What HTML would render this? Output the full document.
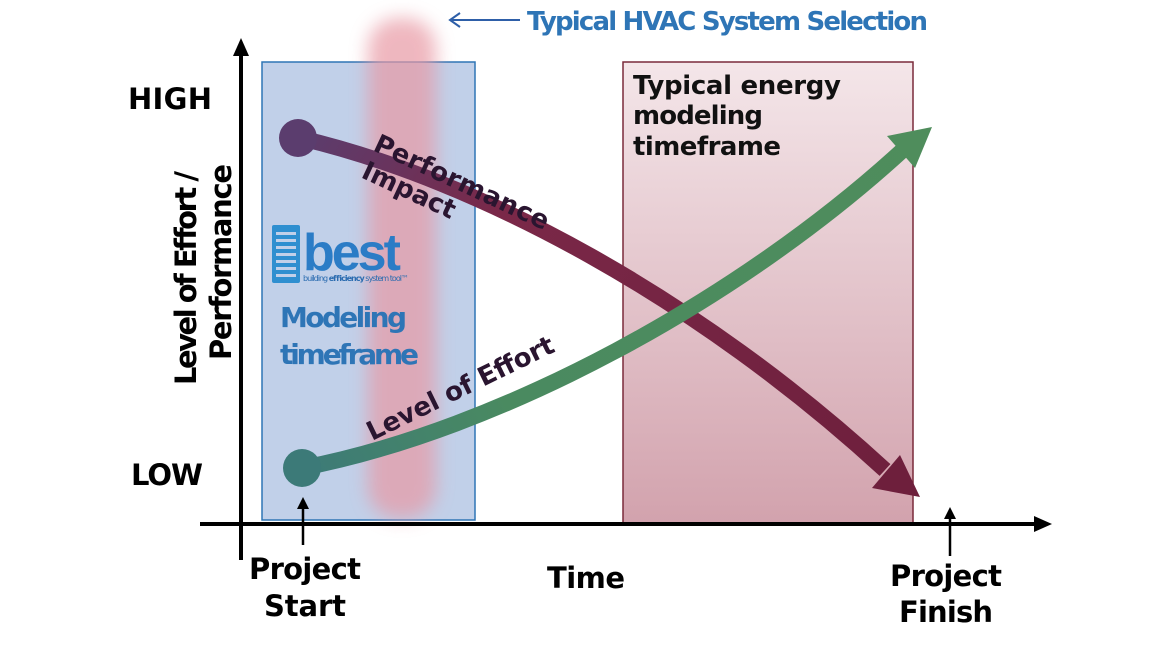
<!DOCTYPE html>
<html><head><meta charset="utf-8"><style>
html,body{margin:0;padding:0;background:#fff;}
svg{display:block;font-family:"DejaVu Sans","Liberation Sans",sans-serif;font-weight:bold;}
</style></head><body>
<svg width="1170" height="658" viewBox="0 0 1170 658" xmlns="http://www.w3.org/2000/svg">
<defs>
<linearGradient id="rb" x1="0" y1="0" x2="0" y2="1"><stop offset="0" stop-color="#f4e6e9"/><stop offset="1" stop-color="#d2a2ad"/></linearGradient>
<linearGradient id="pg" gradientUnits="userSpaceOnUse" x1="300" y1="138" x2="910" y2="490"><stop offset="0" stop-color="#5b3d6e"/><stop offset="0.3" stop-color="#7a2848"/><stop offset="1" stop-color="#6e1f3c"/></linearGradient>
<linearGradient id="gg" gradientUnits="userSpaceOnUse" x1="300" y1="468" x2="930" y2="130"><stop offset="0" stop-color="#3c7a78"/><stop offset="0.3" stop-color="#4a8a60"/><stop offset="1" stop-color="#4f8d5c"/></linearGradient>
<filter id="bl" x="-50%" y="-10%" width="200%" height="120%"><feGaussianBlur stdDeviation="9"/></filter>
</defs>
<rect x="262" y="62" width="213" height="458" fill="#c1d0e9" stroke="#2f75b5" stroke-width="1.5"/>
<rect x="368" y="18" width="68" height="500" rx="30" fill="#e899a4" opacity="0.7" filter="url(#bl)"/>
<rect x="623" y="62" width="290" height="462" fill="url(#rb)" stroke="#7a2a3a" stroke-width="1.5"/>
<line x1="241" y1="50" x2="241" y2="560" stroke="#000" stroke-width="4"/>
<polygon points="241,38 233,56 249,56" fill="#000"/>
<line x1="200" y1="524" x2="1040" y2="524" stroke="#000" stroke-width="4"/>
<polygon points="1052,524 1034,516 1034,532" fill="#000"/>
<line x1="303" y1="545" x2="303" y2="505" stroke="#000" stroke-width="2.5"/>
<polygon points="303,497 297,509 309,509" fill="#000"/>
<line x1="950" y1="556" x2="950" y2="515" stroke="#000" stroke-width="2.5"/>
<polygon points="950,507 944,519 956,519" fill="#000"/>
<path d="M300,138 C480,180 700,300 885,470" fill="none" stroke="url(#pg)" stroke-width="16"/>
<polygon points="920,497 872,488 900,455" fill="#6e1f3c"/>
<circle cx="298" cy="138" r="19" fill="#5b3d6e"/>
<path d="M302,468 C500,430 740,300 905,148" fill="none" stroke="url(#gg)" stroke-width="16"/>
<polygon points="932,127 887,136 915,168" fill="#4f8d5c"/>
<circle cx="302" cy="468" r="19" fill="#3c7a78"/>
<text x="128" y="109" font-size="29" fill="#000" textLength="84">HIGH</text>
<text x="131" y="485" font-size="29" fill="#000" textLength="72">LOW</text>
<text transform="translate(196,278) rotate(-90)" text-anchor="middle" font-size="29" textLength="214">Level of Effort /</text>
<text transform="translate(231,262) rotate(-90)" text-anchor="middle" font-size="29" textLength="196">Performance</text>
<text x="305" y="579" text-anchor="middle" font-size="29" textLength="112">Project</text>
<text x="305" y="616" text-anchor="middle" font-size="29" textLength="82">Start</text>
<text x="586" y="588" text-anchor="middle" font-size="29" textLength="78">Time</text>
<text x="946" y="586" text-anchor="middle" font-size="29" textLength="112">Project</text>
<text x="946" y="622" text-anchor="middle" font-size="29" textLength="94">Finish</text>
<line x1="520" y1="20" x2="452" y2="20" stroke="#2e5fa8" stroke-width="2"/>
<polyline points="460,13 450,20 460,27" fill="none" stroke="#2e5fa8" stroke-width="2"/>
<text x="527" y="30" font-size="26" fill="#2e75b6" textLength="401">Typical HVAC System Selection</text>
<text font-size="26" fill="#111"><tspan x="633" y="94" textLength="208">Typical energy</tspan><tspan x="633" y="124" textLength="130">modeling</tspan><tspan x="633" y="155" textLength="148">timeframe</tspan></text>
<text font-size="28" fill="#2e75b6"><tspan x="280" y="327" textLength="127">Modeling</tspan><tspan x="280" y="364" textLength="139">timeframe</tspan></text>
<text transform="translate(372,150) rotate(25)" font-size="26" fill="#2a1530" textLength="190">Performance</text>
<text transform="translate(360,177) rotate(25)" font-size="26" fill="#2a1530" textLength="100">Impact</text>
<text transform="translate(372,441) rotate(-26)" font-size="26" fill="#2a1530" textLength="205">Level of Effort</text>
<g>
<rect x="272" y="225" width="28" height="58" rx="2" fill="#2f8fd0"/>
<g fill="#c1d0e9"><rect x="276" y="232" width="20" height="3"/><rect x="276" y="239" width="20" height="3"/><rect x="276" y="246" width="20" height="3"/><rect x="276" y="253" width="20" height="3"/><rect x="276" y="260" width="20" height="3"/><rect x="276" y="267" width="20" height="3"/><rect x="276" y="274" width="20" height="3"/></g>
<text x="303" y="270" font-size="52" fill="#2b7cc6" letter-spacing="-3" font-family="Liberation Sans, sans-serif">best</text>
<text x="303" y="281" font-size="8" font-weight="normal" fill="#2b6cb0" textLength="106">building <tspan font-weight="bold">efficiency</tspan> system tool™</text>
</g>
</svg>
</body></html>
